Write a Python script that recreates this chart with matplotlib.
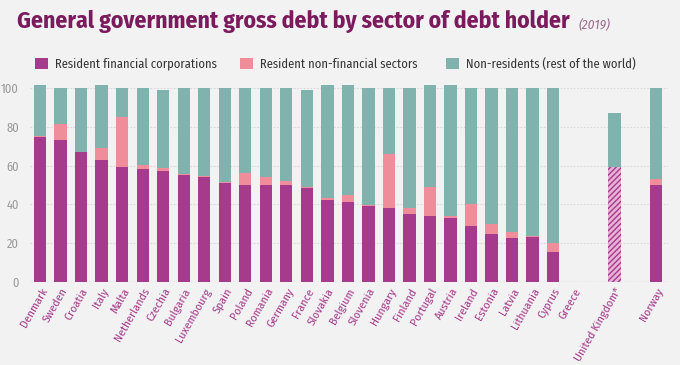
import numpy as np
import matplotlib.pyplot as plt
import matplotlib as mpl
from matplotlib import font_manager as fm

# condensed face if there is one, plain DejaVu otherwise
available = {f.name for f in fm.fontManager.ttflist}
narrow = None
for fam in ["Fira Sans Condensed", "Roboto Condensed", "Open Sans Condensed",
            "PT Sans Narrow", "Liberation Sans Narrow"]:
    if fam in available:
        narrow = fam
        break
if narrow:
    plt.rcParams['font.family'] = [narrow, 'DejaVu Sans']
    scale = 1.0
else:
    plt.rcParams['font.family'] = ['DejaVu Sans']
    scale = 0.85
mpl.rcParams['hatch.linewidth'] = 1.0

countries = ["Denmark", "Sweden", "Croatia", "Italy", "Malta", "Netherlands", "Czechia",
             "Bulgaria", "Luxembourg", "Spain", "Poland", "Romania", "Germany", "France",
             "Slovakia", "Belgium", "Slovenia", "Hungary", "Finland", "Portugal", "Austria",
             "Ireland", "Estonia", "Latvia", "Lithuania", "Cyprus", "Greece",
             "", "United Kingdom*", "", "Norway"]

fin_corp = [74.5, 73.0, 67.2, 63.1, 59.1, 58.3, 57.2, 55.2, 54.3, 51.0, 50.0, 50.0, 50.0, 48.3,
            42.2, 41.0, 39.1, 38.1, 35.0, 34.0, 33.1, 29.0, 25.0, 22.9, 23.1, 15.7, np.nan,
            np.nan, np.nan, np.nan, 49.8]
non_fin = [0.8, 8.3, 0.0, 6.2, 26.0, 2.0, 1.4, 0.7, 0.4, 0.3, 6.0, 4.0, 2.0, 0.8,
           0.9, 3.8, 0.4, 27.9, 3.3, 15.1, 0.9, 11.0, 4.8, 3.0, 0.7, 4.3, np.nan,
           np.nan, np.nan, np.nan, 3.1]
non_res = [26.1, 18.9, 32.8, 32.1, 14.9, 39.7, 40.5, 44.1, 45.3, 48.7, 44.0, 46.0, 48.0, 50.0,
           58.3, 56.6, 60.5, 34.0, 61.7, 52.3, 67.4, 60.0, 70.2, 74.1, 76.2, 80.0, np.nan,
           np.nan, 27.6, np.nan, 47.1]
# UK: only total resident holdings available
uk_resident = 59.5
uk_index = 28

magenta = "#A63A8C"
pink = "#F08D9B"
teal = "#80B3AE"
bg = "#F2F2F2"

fig = plt.figure(figsize=(6.8, 3.65), dpi=100, facecolor=bg)
ax = fig.add_axes([30/680, 83/365, 638/680, 199.8/365], facecolor=bg)

x = np.arange(len(countries))
fin = np.array(fin_corp)
nf = np.array(non_fin)
nr = np.array(non_res)
w = 0.6

b1 = ax.bar(x, fin, w, color=magenta, label="Resident financial corporations", zorder=3)
b2 = ax.bar(x, nf, w, bottom=fin, color=pink, label="Resident non-financial sectors", zorder=3)
bottom_nr = fin + nf
bottom_nr[uk_index] = uk_resident
b3 = ax.bar(x, nr, w, bottom=bottom_nr, color=teal, label="Non-residents (rest of the world)",
            zorder=3)
ax.bar(uk_index, uk_resident, w, color="#E7B3D6", edgecolor=magenta, hatch="//////",
       linewidth=0, zorder=3)

ax.set_xlim(-0.49, 30.6)
ax.set_ylim(0, 103)
ax.set_yticks([0, 20, 40, 60, 80, 100])
ax.tick_params(axis='y', length=0, labelsize=9 * scale, labelcolor="#9A9A9A", pad=8)
ax.yaxis.grid(True, color="#D8D8D8", linestyle=(0, (1.5, 1.5)), linewidth=0.8, zorder=0)
ax.axhline(0, color="#777777", linestyle=(0, (1.5, 1.5)), linewidth=0.8, zorder=4)
for s in ax.spines.values():
    s.set_visible(False)

ax.set_xticks(x)
ax.set_xticklabels(countries, rotation=60, ha="right", rotation_mode="anchor",
                   fontsize=8.5 * scale, color=magenta)
ax.tick_params(axis='x', length=0, pad=3)

fig.text(17/680, 1 - 21/365, "General government gross debt by sector of debt holder",
         fontsize=17 * scale, fontweight="bold", color="#7B1A5C", va="center", ha="left")
fig.text(579/680, 1 - 24/365, "(2019)", fontsize=9.5 * scale, style="italic",
         color="#9A6A8A", va="center", ha="left")

# one legend per entry so each sits where the reference puts it
for handle, xpos in zip([b1, b2, b3], [30, 235, 441]):
    leg = fig.legend([handle], [handle.get_label()], loc="center left",
                     bbox_to_anchor=(xpos/680, 1 - 64/365), frameon=False,
                     fontsize=9 * scale, handlelength=1.0, handleheight=1.0,
                     handletextpad=0.6, borderaxespad=0)
    for t in leg.get_texts():
        t.set_color("#333333")

fig.savefig("out.png", dpi=100, facecolor=bg)
